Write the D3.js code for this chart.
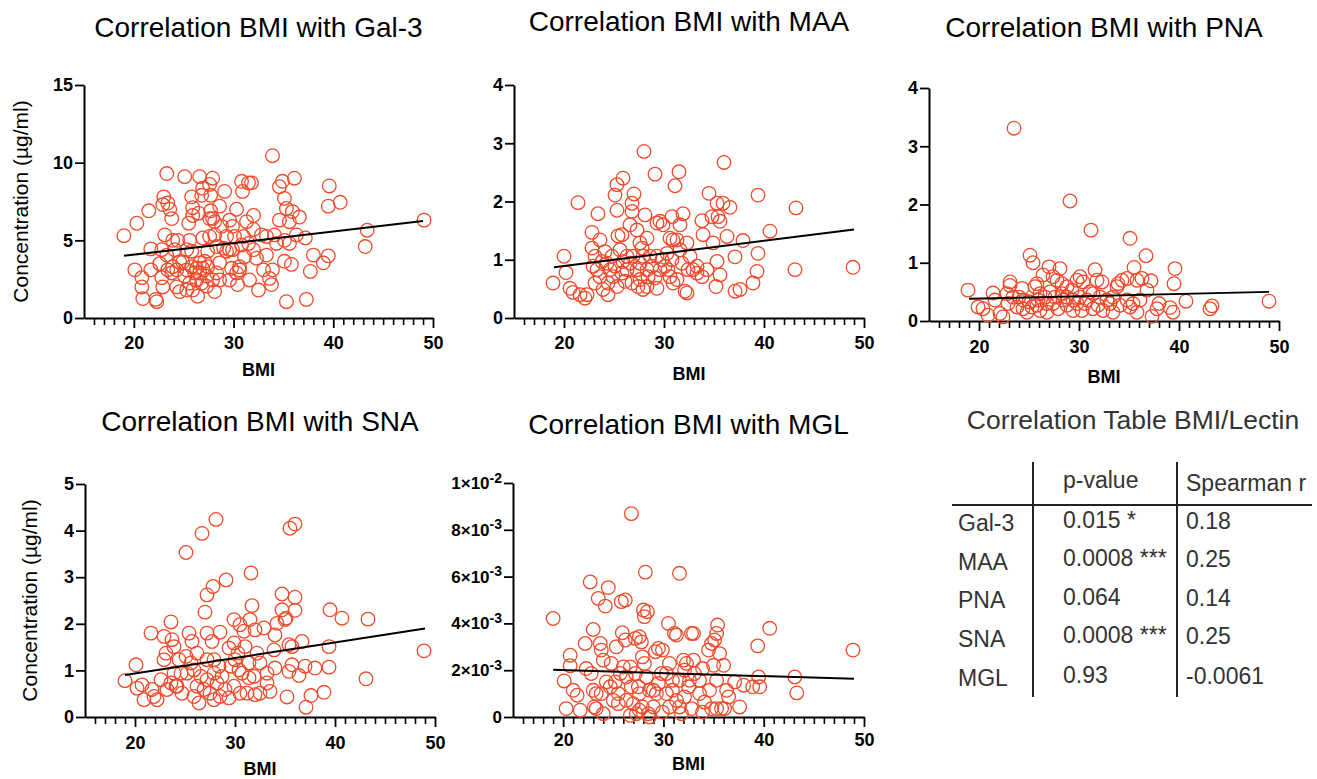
<!DOCTYPE html>
<html>
<head>
<meta charset="utf-8">
<script src="https://cdn.jsdelivr.net/npm/d3@7"></script>
<style>
  body { margin: 0; background: #fff; }
  svg { display: block; font-family: "Liberation Sans", Arial, Helvetica, sans-serif; }
  .tick text { font-weight: bold; font-size: 18px; fill: #000; }
  .domain, .tick line { stroke: #000; }
</style>
</head>
<body>
<svg id="chart" width="1317" height="779"></svg>
<script>
// [BMI, concentration] pairs
const gal3Points = [
  [19.0,5.3],[20.3,6.1],[20.1,3.1],[20.8,2.6],[20.8,2.0],[20.9,1.25],[21.5,6.9],[21.7,4.45],[21.7,3.1],[22.2,1.2],
  [22.3,1.05],[23.3,9.3],[23.0,7.8],[22.9,7.3],[23.4,7.4],[23.6,7.0],[23.8,6.4],[23.1,5.35],[22.8,4.4],[22.6,3.5],
  [22.8,2.6],[22.9,2.0],[23.4,3.1],[23.9,5.0],[24.1,4.4],[23.9,3.3],[23.8,2.9],[24.3,2.0],[24.6,1.7],[25.1,9.1],
  [25.8,7.8],[25.9,7.1],[25.5,6.1],[25.9,6.6],[25.6,5.0],[25.3,4.4],[24.9,3.6],[25.3,3.1],[25.8,3.3],[26.1,2.9],
  [25.6,2.25],[25.9,1.8],[26.4,1.4],[26.6,9.1],[26.9,8.35],[26.8,7.9],[27.6,8.6],[27.9,9.0],[27.7,7.9],[26.5,6.75],
  [27.7,6.9],[27.9,6.4],[28.1,6.2],[26.9,5.15],[27.4,4.3],[27.6,5.25],[28.1,5.35],[28.3,4.6],[26.6,3.55],[27.1,3.65],
  [27.4,3.3],[27.3,2.7],[26.8,2.25],[27.9,2.45],[28.1,1.7],[29.1,8.15],[28.6,7.2],[28.8,5.9],[29.0,4.5],[29.3,4.3],
  [29.6,6.3],[29.9,5.9],[30.3,7.0],[30.1,5.25],[29.8,3.2],[30.3,2.9],[30.6,3.1],[30.4,2.15],[30.8,8.8],[30.9,8.15],
  [31.5,8.7],[31.8,8.7],[31.3,6.2],[32.0,6.6],[31.0,5.25],[30.8,4.7],[32.0,4.4],[32.3,3.85],[31.6,2.45],[32.5,1.8],
  [32.8,5.35],[33.0,3.1],[33.3,4.05],[33.6,2.55],[33.8,2.15],[33.9,10.45],[34.1,5.35],[34.3,4.8],[34.6,8.45],[34.9,8.8],
  [35.1,7.7],[34.6,6.3],[35.3,7.05],[35.1,5.0],[35.1,3.65],[35.6,4.8],[35.8,3.45],[35.3,1.05],[35.6,6.2],[35.9,6.85],
  [36.1,9.0],[36.6,6.5],[36.3,5.35],[37.2,5.15],[37.3,1.2],[37.7,3.0],[38.0,4.05],[39.0,3.55],[39.5,4.0],[39.5,7.2],
  [39.6,8.5],[40.7,7.45],[43.2,4.6],[43.4,5.65],[49.1,6.3],
  [24.6,3.6],[25.1,2.7],[26.3,3.2],[26.6,2.9],[26.3,2.45],[26.9,3.2],[27.3,2.05],[28.6,3.55],[28.3,2.9],[29.3,5.25],
  [29.6,4.4],[31.1,3.95],[31.5,4.8],[29.9,4.4],[32.0,5.7],[28.6,2.45],[25.8,4.3],[24.3,3.1],[23.3,4.05],[24.4,5.0],
  [30.6,3.3],[29.6,2.45],[33.3,5.25],[33.9,3.1],[27.6,6.4],[25.3,1.8]
];
const maaPoints = [
  [18.9,0.6],[20.0,1.06],[20.2,0.78],[20.6,0.51],[20.9,0.44],[21.4,1.98],[21.6,0.4],[22.1,0.34],[22.3,0.4],[22.8,1.47],
  [22.8,1.2],[23.1,1.06],[23.4,1.79],[23.6,1.34],[23.3,0.83],[23.6,0.71],[23.1,0.6],[23.9,0.49],[24.4,0.4],[24.1,1.14],
  [24.3,0.94],[24.6,0.83],[24.9,0.71],[25.1,2.11],[25.3,2.29],[25.9,2.4],[25.3,1.85],[25.4,1.41],[25.8,1.43],[25.6,1.17],
  [25.9,0.97],[25.8,0.77],[26.3,0.83],[26.1,0.63],[26.6,1.6],[26.8,1.97],[27.0,2.13],[26.8,1.83],[27.3,1.51],[27.6,1.29],
  [27.8,1.2],[28.0,2.86],[28.1,1.77],[28.3,1.37],[26.9,1.06],[27.3,0.83],[27.6,0.66],[27.4,0.54],[27.9,0.49],[28.3,0.83],
  [28.4,0.71],[28.6,1.06],[29.1,2.47],[29.3,1.63],[29.6,1.66],[29.9,1.6],[29.3,1.06],[29.8,1.0],[29.3,0.51],[29.1,0.69],
  [30.3,1.11],[30.6,1.37],[30.8,1.74],[31.1,2.27],[31.5,2.51],[31.6,1.6],[31.9,1.79],[31.3,1.34],[30.4,0.83],[30.6,0.71],
  [30.9,0.6],[31.3,0.66],[32.1,0.46],[32.3,0.43],[32.3,1.29],[32.6,1.06],[32.9,0.83],[33.3,0.77],[33.8,0.71],[33.8,1.67],
  [33.9,1.43],[34.5,2.14],[34.8,1.74],[34.9,1.29],[35.3,1.97],[35.4,1.74],[35.6,1.66],[35.9,1.97],[36.0,2.67],[36.6,1.9],
  [36.3,1.4],[35.3,0.97],[35.6,0.74],[35.2,0.54],[37.1,1.05],[37.1,0.46],[37.6,0.49],[37.9,1.33],[38.9,0.6],[39.3,0.8],
  [39.4,1.11],[39.4,2.11],[40.6,1.49],[43.1,0.83],[43.2,1.89],[48.9,0.87],
  [22.9,0.89],[23.8,0.97],[24.8,1.06],[25.1,0.89],[26.3,1.06],[26.6,0.94],[28.8,0.89],[29.6,0.83],[30.1,0.89],[30.8,1.0],
  [31.6,1.17],[31.8,0.94],[33.3,0.89],[34.3,0.83],[27.9,1.06],[27.6,0.94],[24.4,0.6],[25.3,0.54],[26.8,0.6],[28.3,0.54],
  [30.9,1.34],[32.4,0.83]
];
const pnaPoints = [
  [18.9,0.53],[19.9,0.24],[20.4,0.21],[20.9,0.1],[21.4,0.48],[21.6,0.36],[22.1,0.13],[22.4,0.07],[23.1,0.67],[23.1,0.61],
  [23.5,3.31],[23.4,0.41],[22.9,0.3],[23.8,0.24],[24.3,0.56],[24.4,0.36],[24.8,0.15],[25.1,1.13],[25.4,1.0],[25.6,0.59],
  [25.8,0.64],[25.9,0.36],[26.1,0.18],[26.4,0.79],[27.0,0.93],[27.4,0.76],[27.8,0.7],[28.1,0.9],[28.3,0.64],[26.8,0.3],
  [27.4,0.3],[27.9,0.21],[28.4,0.36],[28.8,0.27],[29.1,2.06],[29.3,0.53],[29.8,0.7],[30.1,0.76],[30.4,0.67],[29.8,0.3],
  [30.3,0.18],[30.8,0.36],[31.2,1.56],[31.6,0.88],[31.8,0.7],[32.3,0.67],[31.4,0.47],[31.9,0.27],[32.4,0.18],[33.1,0.3],
  [33.4,0.15],[33.9,0.64],[34.3,0.7],[34.8,0.73],[35.1,1.42],[35.5,0.92],[35.8,0.7],[36.3,0.73],[36.7,1.12],[37.2,0.69],
  [36.8,0.53],[36.1,0.36],[35.4,0.3],[35.1,0.24],[35.8,0.15],[37.3,0.08],[38.0,0.3],[37.8,0.21],[39.1,0.23],[39.4,0.15],
  [39.5,0.64],[39.6,0.9],[40.7,0.34],[43.1,0.21],[43.3,0.26],[49.0,0.34],
  [22.8,0.47],[24.0,0.41],[25.0,0.33],[25.3,0.24],[25.8,0.27],[26.6,0.41],[27.1,0.5],[27.6,0.41],[28.3,0.47],[28.8,0.41],
  [29.4,0.36],[30.1,0.41],[30.6,0.3],[31.1,0.5],[32.1,0.41],[32.8,0.36],[33.4,0.41],[34.1,0.27],[34.8,0.36],[24.4,0.21],
  [26.8,0.15],[29.4,0.18],[31.4,0.21],[33.8,0.59],[28.8,0.59],[26.1,0.47]
];
const snaPoints = [
  [19.0,0.78],[20.1,1.12],[20.2,0.62],[20.7,0.69],[20.9,0.37],[21.6,1.8],[21.7,0.59],[21.9,0.44],[22.2,0.37],[22.6,0.8],
  [22.9,1.73],[23.1,1.37],[22.9,1.23],[23.6,2.04],[23.7,1.66],[23.9,1.51],[23.2,0.59],[23.6,0.73],[24.1,0.66],[24.4,1.23],
  [24.6,0.94],[24.7,0.51],[25.1,3.53],[25.4,1.8],[25.7,1.62],[25.6,1.16],[25.9,1.01],[26.2,1.37],[26.2,0.66],[26.4,0.3],
  [26.7,3.94],[27.0,2.25],[27.2,2.62],[27.8,2.8],[27.2,1.8],[27.7,1.62],[28.1,4.24],[28.5,1.82],[27.9,1.23],[27.9,0.94],
  [27.2,0.8],[27.5,0.51],[28.5,0.44],[28.2,0.73],[29.1,2.94],[29.4,1.48],[29.9,2.09],[30.0,1.23],[30.4,1.01],[29.9,0.66],
  [29.4,0.41],[30.5,1.98],[30.9,1.84],[31.0,1.51],[31.5,2.09],[31.6,3.09],[31.7,2.39],[32.0,1.87],[32.9,1.91],[32.2,1.37],
  [31.9,0.87],[30.5,0.51],[31.2,0.51],[32.0,0.48],[32.5,0.51],[33.2,0.73],[33.5,0.55],[34.0,1.76],[34.2,2.01],[33.9,1.44],
  [34.0,1.05],[34.7,2.64],[34.7,2.3],[35.0,2.09],[35.1,2.12],[35.5,4.05],[36.0,4.14],[36.0,2.57],[36.0,2.29],[35.4,1.55],
  [35.7,1.51],[35.7,1.12],[35.4,0.98],[35.2,0.43],[36.7,1.62],[37.0,1.09],[36.4,0.89],[37.1,0.21],[37.6,0.46],[38.0,1.05],
  [38.9,0.53],[39.4,1.51],[39.4,1.07],[39.5,2.3],[40.7,2.12],[43.1,0.82],[43.3,2.1],[48.9,1.42],
  [25.2,0.94],[26.6,0.87],[27.2,1.23],[28.4,1.09],[28.7,0.87],[29.6,1.09],[30.3,1.37],[30.7,0.94],[31.4,1.16],[32.5,1.16],
  [33.2,0.94],[25.1,1.3],[24.2,0.66],[23.9,0.94],[26.9,0.59],[29.0,0.59],[25.9,0.44],[27.9,0.37],[31.4,0.84],[29.9,1.59]
];
// MGL values in units of 10^-3 µg/ml
const mglPoints = [
  [19.0,4.21],[20.1,1.54],[20.3,0.36],[20.7,2.64],[20.7,2.19],[21.0,1.14],[21.4,0.93],[21.7,0.29],[22.2,3.14],[22.3,2.07],
  [22.7,5.77],[23.0,3.74],[22.8,1.86],[23.0,1.14],[23.3,0.36],[23.5,5.07],[23.7,3.14],[23.8,2.86],[24.0,2.43],[24.2,4.74],
  [24.5,5.53],[24.3,1.5],[23.8,1.0],[24.0,0.14],[24.8,2.29],[25.2,1.5],[25.3,3.0],[25.5,1.0],[25.5,0.57],[25.8,4.93],
  [26.2,5.0],[25.9,3.6],[26.2,3.29],[26.0,2.14],[26.3,1.71],[26.8,8.69],[27.2,3.36],[27.6,3.43],[27.8,3.21],[26.8,1.29],
  [27.0,0.57],[27.3,0.14],[26.7,0.07],[28.0,4.57],[28.1,4.29],[28.4,4.5],[28.2,6.19],[27.9,2.57],[28.1,2.29],[28.3,1.71],
  [27.6,1.0],[27.9,0.43],[28.6,0.0],[28.5,0.14],[29.2,2.79],[29.5,2.93],[29.9,2.86],[29.0,1.14],[29.5,1.43],[29.8,1.86],
  [30.5,4.0],[31.1,3.57],[31.3,3.5],[31.6,6.14],[30.6,2.29],[30.9,1.57],[30.3,1.0],[29.9,0.21],[30.6,0.43],[31.6,0.43],
  [31.8,0.14],[32.0,2.43],[32.3,2.29],[32.8,3.57],[33.0,3.57],[33.0,2.43],[33.1,1.86],[32.6,1.57],[32.1,0.86],[32.8,0.36],
  [33.6,1.57],[33.9,2.07],[34.1,0.64],[33.9,0.21],[34.5,2.86],[34.8,3.14],[35.1,3.29],[35.3,3.57],[35.4,3.93],[35.6,2.71],
  [35.0,2.21],[36.0,2.21],[35.3,1.57],[34.6,1.14],[34.8,0.36],[35.3,0.36],[35.8,0.36],[36.1,0.36],[36.3,1.14],[36.5,0.86],
  [37.1,1.5],[37.6,0.43],[38.0,1.36],[38.9,1.29],[39.4,3.04],[39.5,1.71],[39.6,1.29],[40.6,3.79],[43.1,1.71],[43.3,1.03],
  [48.9,2.86],
  [23.3,1.0],[24.7,1.29],[25.7,1.86],[26.7,2.14],[27.2,1.86],[27.5,1.29],[28.6,1.14],[29.3,1.0],[30.3,1.86],[30.9,1.14],
  [31.6,1.57],[32.1,2.0],[32.5,1.29],[25.0,0.71],[26.3,0.71],[27.6,0.29],[29.0,0.43],[23.1,0.43],[33.6,1.0],[31.3,0.71]
];

// fitted line end points [BMI, value]
const gal3Fit = [[19, 4.0], [49, 6.25]];
const maaFit = [[19, 0.87], [49, 1.52]];
const pnaFit = [[19, 0.38], [49, 0.5]];
const snaFit = [[19, 0.9], [49, 1.9]];
const mglFit = [[19, 2.02], [49, 1.63]];

const bmiDomain = [15, 50];
const bmiMajorTicks = [20, 30, 40, 50];

// correlation table
const tableLectins = ["Gal-3", "MAA", "PNA", "SNA", "MGL"];
const tablePValues = ["0.015 *", "0.0008 ***", "0.064", "0.0008 ***", "0.93"];
const tableSpearman = ["0.18", "0.25", "0.14", "0.25", "-0.0061"];

const svg = d3.select("#chart");
const red = "#ee4b2b";

const panels = [
  { title: "Correlation BMI with Gal-3", pts: gal3Points, fit: gal3Fit, unit: 1,
    x0: 84, x1: 433, yTop: 85, yBot: 318, yMax: 15, yTicks: [0, 5, 10, 15],
    titleY: 37, tickY: 31, bmiY: 376, yTitleX: 28 },
  { title: "Correlation BMI with MAA", pts: maaPoints, fit: maaFit, unit: 1,
    x0: 514, x1: 864, yTop: 85, yBot: 318, yMax: 4, yTicks: [0, 1, 2, 3, 4],
    titleY: 31, tickY: 31, bmiY: 380 },
  { title: "Correlation BMI with PNA", pts: pnaPoints, fit: pnaFit, unit: 1,
    x0: 929, x1: 1279, yTop: 88, yBot: 321, yMax: 4, yTicks: [0, 1, 2, 3, 4],
    titleY: 37, tickY: 32, bmiY: 383 },
  { title: "Correlation BMI with SNA", pts: snaPoints, fit: snaFit, unit: 1,
    x0: 85, x1: 435, yTop: 484, yBot: 717, yMax: 5, yTicks: [0, 1, 2, 3, 4, 5],
    titleY: 431, tickY: 32, bmiY: 775, yTitleX: 37 },
  { title: "Correlation BMI with MGL", pts: mglPoints, fit: mglFit, unit: 1e-3,
    x0: 513, x1: 864, yTop: 483, yBot: 717, yMax: 0.01, yTicks: [0, 0.002, 0.004, 0.006, 0.008, 0.01],
    titleY: 434, tickY: 29, bmiY: 770, sci: true }
];

function sciLabel(sel) {
  sel.each(function(v) {
    const t = d3.select(this).text("");
    if (v === 0) { t.text("0"); return; }
    const e = Math.floor(Math.log10(v) + 1e-9);
    const m = Math.round(v / Math.pow(10, e));
    t.append("tspan").text(m + "×10");
    t.append("tspan").attr("dy", "-0.45em").style("font-size", "14px").text(String(e));
  });
}

panels.forEach(p => {
  const x = d3.scaleLinear().domain(bmiDomain).range([p.x0, p.x1]);
  const y = d3.scaleLinear().domain([0, p.yMax]).range([p.yBot, p.yTop]);
  const g = svg.append("g");

  g.append("text")
    .attr("x", (p.x0 + p.x1) / 2).attr("y", p.titleY)
    .attr("text-anchor", "middle")
    .style("font-size", "28px").style("fill", "#000")
    .text(p.title);

  // minor ticks on x
  const minor = g.append("g")
    .attr("transform", `translate(0,${p.yBot})`)
    .call(d3.axisBottom(x)
      .tickValues(d3.range(16, 50).filter(v => v % 10 !== 0))
      .tickSize(7).tickSizeOuter(0).tickFormat(""));
  minor.select(".domain").remove();
  minor.selectAll("line").attr("stroke-width", 1.6);

  // major ticks and x axis line
  const xAxis = g.append("g")
    .attr("transform", `translate(0,${p.yBot})`)
    .call(d3.axisBottom(x).tickValues(bmiMajorTicks).tickSize(10).tickSizeOuter(0));
  xAxis.select(".domain").attr("stroke-width", 2);
  xAxis.selectAll("line").attr("stroke-width", 1.8);
  xAxis.selectAll("text").attr("y", p.tickY).attr("dy", null);

  const yAxis = g.append("g")
    .attr("transform", `translate(${p.x0},0)`)
    .call(d3.axisLeft(y).tickValues(p.yTicks).tickSize(9).tickPadding(2)
      .tickSizeOuter(0).tickFormat(d => String(d)));
  yAxis.select(".domain").attr("stroke-width", 2);
  yAxis.selectAll("line").attr("stroke-width", 1.8);
  if (p.sci) yAxis.selectAll(".tick text").style("font-size", "17px").call(sciLabel);

  g.append("text")
    .attr("x", (p.x0 + p.x1) / 2).attr("y", p.bmiY)
    .attr("text-anchor", "middle")
    .style("font-size", "18px").style("font-weight", "bold")
    .text("BMI");

  if (p.yTitleX) {
    g.append("text")
      .attr("transform", `translate(${p.yTitleX},${(p.yTop + p.yBot) / 2}) rotate(-90)`)
      .attr("text-anchor", "middle")
      .style("font-size", "21px")
      .text("Concentration (µg/ml)");
  }

  g.append("g").selectAll("circle")
    .data(p.pts)
    .join("circle")
    .attr("cx", d => x(d[0]))
    .attr("cy", d => y(d[1] * p.unit))
    .attr("r", 6.8)
    .attr("fill", "none")
    .attr("stroke", red)
    .attr("stroke-width", 1.3);

  g.append("path")
    .datum(p.fit)
    .attr("d", d3.line().x(d => x(d[0])).y(d => y(d[1] * p.unit)))
    .attr("stroke", "#000")
    .attr("stroke-width", 2)
    .attr("fill", "none");
});

// correlation table
const tg = svg.append("g").style("fill", "#333").style("font-size", "23px");
tg.append("text").attr("x", 1133).attr("y", 429).attr("text-anchor", "middle")
  .style("font-size", "26.5px").text("Correlation Table BMI/Lectin");

tg.append("line").attr("x1", 1033).attr("x2", 1033).attr("y1", 462).attr("y2", 697);
tg.append("line").attr("x1", 1177).attr("x2", 1177).attr("y1", 462).attr("y2", 697);
tg.append("line").attr("x1", 952).attr("x2", 1312).attr("y1", 505).attr("y2", 505);
tg.selectAll("line").attr("stroke", "#222").attr("stroke-width", 2);

tg.append("text").attr("x", 1063).attr("y", 488).text("p-value");
tg.append("text").attr("x", 1186).attr("y", 491).text("Spearman r");

const labelY = [531, 570, 608, 647, 686];
const valueY = [528, 566, 605, 643, 683];
tg.selectAll(".lec").data(tableLectins).join("text")
  .attr("x", 958).attr("y", (d, i) => labelY[i]).text(d => d);
tg.selectAll(".pv").data(tablePValues).join("text")
  .attr("x", 1063).attr("y", (d, i) => valueY[i]).text(d => d);
tg.selectAll(".sr").data(tableSpearman).join("text")
  .attr("x", 1186).attr("y", (d, i) => valueY[i] + 1).text(d => d);
</script>
</body>
</html>
